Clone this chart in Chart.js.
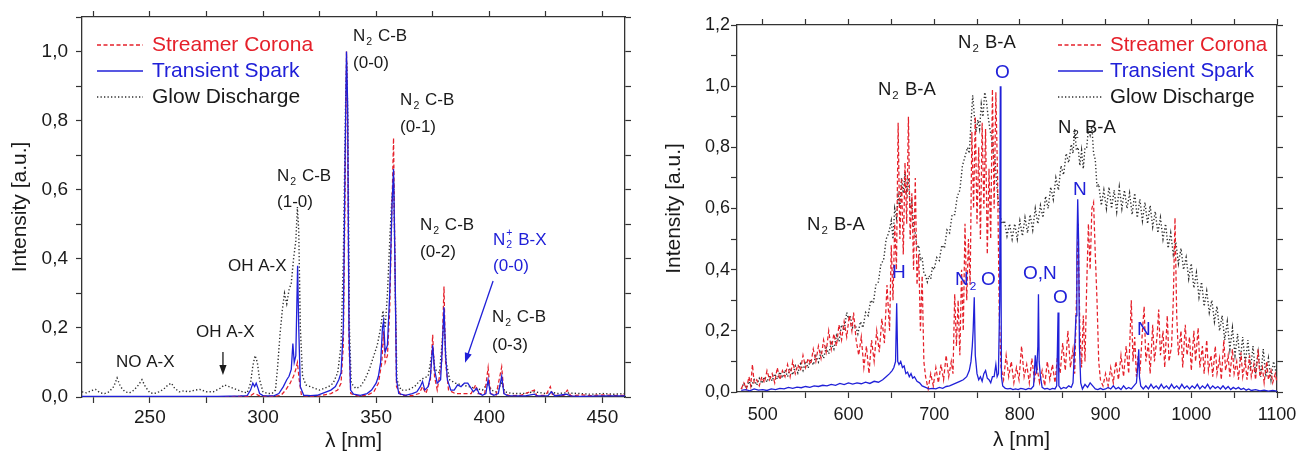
<!DOCTYPE html>
<html>
<head>
<meta charset="utf-8">
<script src="https://cdn.jsdelivr.net/npm/chart.js@4.4.1/dist/chart.umd.min.js"></script>
<style>
  html, body { margin: 0; padding: 0; background: #fff; }
  #wrap { position: relative; width: 1299px; height: 457px; }
  canvas { position: absolute; top: 0; }
  #cL { left: 0; }
  #cR { left: 650px; }
</style>
</head>
<body>
<div id="wrap">
  <canvas id="cL" width="650" height="457"></canvas>
  <canvas id="cR" width="649" height="457"></canvas>
</div>
<script>
// ── UV spectra (left panel), [λ nm, intensity a.u.] ─────────────────────────
const leftSpark = [
  [220,0.002],[230,0.002],[240,0.002],[250,0.002],[260,0.002],[270,0.002],[280,0.002],[290,0.003],[293,0.004],
  [294.5,0.02],[295.5,0.04],[296.3,0.03],[297,0.04],[297.8,0.025],[298.5,0.01],[300,0.004],[303,0.003],[305,0.004],
  [307,0.01],[309,0.03],[310.5,0.05],[311.5,0.06],[312.5,0.08],[313.2,0.155],[313.8,0.1],[314.5,0.12],[315.3,0.38],
  [315.8,0.2],[316.5,0.03],[318,0.005],[321,0.004],[324,0.005],[326,0.01],[328,0.015],[330,0.02],[332,0.03],
  [333.5,0.05],[334.5,0.07],[335.5,0.2],[336.3,0.7],[336.9,1.0],[337.4,0.85],[338,0.2],[338.7,0.02],[340,0.008],
  [343,0.005],[346,0.01],[348,0.02],[350,0.04],[351,0.06],[352,0.1],[352.8,0.2],[353.3,0.22],[354,0.13],[355,0.15],
  [356,0.3],[357,0.55],[357.7,0.66],[358.3,0.4],[359,0.05],[360,0.01],[363,0.005],[366,0.01],[368,0.015],[369.5,0.03],
  [370.5,0.045],[371.5,0.02],[373,0.03],[374,0.06],[375,0.15],[375.8,0.08],[377,0.04],[378.5,0.05],[379.3,0.15],
  [380,0.26],[380.7,0.12],[381.5,0.05],[383,0.02],[384.5,0.02],[386,0.035],[387.5,0.03],[389,0.04],[390.5,0.04],
  [391.5,0.03],[393,0.015],[394.5,0.025],[395.5,0.01],[397,0.005],[398.5,0.01],[399.5,0.05],[400.5,0.01],[402,0.005],
  [404,0.01],[405.5,0.06],[406.5,0.01],[408,0.004],[412,0.003],[416,0.003],[420,0.008],[421,0.003],[426,0.004],
  [427.5,0.015],[429,0.003],[434,0.008],[436,0.003],[440,0.002],[450,0.003],[460,0.003]
];
const leftCorona = [
  [220,0.001],[240,0.001],[260,0.001],[280,0.001],[294,0.002],[296,0.01],[297,0.008],[298.5,0.003],[305,0.002],
  [308,0.005],[310,0.02],[312,0.04],[313.5,0.06],[314.5,0.08],[315.2,0.1],[316,0.05],[317,0.005],[320,0.002],
  [325,0.003],[330,0.01],[333,0.02],[334.5,0.04],[335.5,0.15],[336.3,0.6],[336.9,1.0],[337.4,0.8],[338,0.15],
  [338.8,0.01],[342,0.003],[346,0.005],[349,0.015],[351,0.04],[352.5,0.1],[353.3,0.19],[354,0.1],[355,0.12],
  [356,0.25],[357,0.55],[357.7,0.75],[358.3,0.4],[359,0.03],[361,0.005],[366,0.004],[369,0.01],[370.5,0.03],
  [372,0.01],[374,0.05],[375,0.18],[375.8,0.06],[377,0.02],[379,0.1],[380,0.32],[380.7,0.1],[382,0.02],[385,0.01],
  [389,0.01],[392,0.01],[394,0.035],[395,0.01],[398,0.01],[399.5,0.085],[400.5,0.01],[403,0.005],[405.5,0.087],
  [406.5,0.01],[409,0.004],[414,0.005],[420,0.02],[421,0.004],[425,0.005],[427,0.03],[428,0.005],[433,0.005],
  [434.5,0.02],[436,0.004],[441,0.006],[445,0.004],[450,0.006],[455,0.004],[460,0.005]
];
const leftGlow = [
  [220,0.015],[222,0.012],[224,0.018],[226,0.022],[228,0.012],[230,0.01],[232,0.015],[234,0.03],[235.5,0.055],
  [237,0.03],[239,0.015],[241,0.012],[243,0.02],[245,0.035],[246.5,0.05],[248,0.03],[250,0.012],[252,0.01],
  [254,0.015],[256,0.022],[258,0.035],[259.5,0.04],[261,0.025],[263,0.015],[265,0.018],[267,0.015],[270,0.02],
  [272,0.022],[275,0.015],[278,0.015],[281,0.025],[283,0.035],[285,0.03],[287,0.025],[289,0.02],[291,0.015],
  [293,0.012],[294.5,0.04],[295.5,0.09],[296.5,0.12],[297.5,0.1],[298.5,0.05],[300,0.015],[302,0.01],[304,0.01],
  [305.5,0.02],[306.5,0.09],[307.5,0.18],[308.5,0.25],[309.5,0.3],[310.5,0.27],[311.5,0.31],[312.5,0.33],
  [313.5,0.4],[314.5,0.45],[315.2,0.55],[315.8,0.48],[316.5,0.2],[317.5,0.06],[319,0.035],[321,0.03],[323,0.025],
  [325,0.02],[327,0.025],[329,0.03],[331,0.04],[333,0.07],[334.5,0.15],[335.5,0.4],[336.5,0.85],[337,0.97],
  [337.5,0.8],[338.2,0.2],[339,0.04],[341,0.025],[343,0.03],[345,0.05],[347,0.08],[349,0.12],[350.5,0.15],
  [352,0.2],[353,0.25],[354,0.2],[355,0.3],[356,0.45],[357,0.58],[357.8,0.62],[358.5,0.3],[359.2,0.05],[361,0.02],
  [364,0.02],[367,0.03],[369,0.045],[371,0.055],[373,0.06],[375,0.14],[376,0.08],[378,0.07],[380,0.22],[381,0.1],
  [382.5,0.05],[385,0.04],[388,0.035],[391,0.03],[394,0.025],[397,0.02],[399.5,0.04],[401,0.02],[403,0.015],
  [405.5,0.04],[407,0.015],[410,0.01],[415,0.01],[420,0.015],[425,0.01],[427,0.015],[430,0.01],[434,0.012],
  [440,0.01],[445,0.008],[450,0.01],[455,0.008],[460,0.01]
];

// ── VIS/NIR spectra (right panel) ───────────────────────────────────────────
const rightSpark = [
  [475,0.005],[480,0.008],[485,0.004],[490,0.01],[495,0.006],[500,0.008],[505,0.005],[510,0.01],[515,0.008],
  [520,0.012],[525,0.01],[530,0.015],[535,0.012],[540,0.016],[545,0.014],[550,0.018],[555,0.015],[560,0.02],
  [565,0.018],[570,0.022],[575,0.02],[580,0.025],[585,0.022],[590,0.028],[595,0.024],[600,0.03],[605,0.026],
  [610,0.03],[615,0.027],[620,0.032],[625,0.028],[630,0.035],[635,0.032],[640,0.04],[644,0.05],[648,0.06],
  [651,0.07],[653,0.08],[655,0.1],[656.3,0.29],[657.5,0.1],[659,0.09],[661,0.1],[663,0.08],[665,0.085],[667,0.06],
  [669,0.065],[671,0.05],[673,0.06],[675,0.045],[677,0.05],[680,0.035],[683,0.03],[686,0.02],[690,0.015],[694,0.01],
  [698,0.012],[702,0.01],[706,0.015],[710,0.012],[714,0.018],[718,0.02],[722,0.025],[726,0.03],[730,0.035],
  [734,0.04],[738,0.05],[741,0.07],[743,0.1],[744.5,0.15],[745.5,0.2],[746.8,0.31],[748,0.12],[750,0.06],[752,0.04],
  [754,0.05],[756,0.035],[758,0.06],[760,0.07],[762,0.045],[764,0.04],[766,0.03],[768,0.05],[770,0.05],[772,0.09],
  [773.5,0.05],[775,0.06],[776.5,0.3],[777.2,1.0],[777.9,0.5],[778.5,0.05],[780,0.02],[783,0.012],[786,0.01],
  [789,0.012],[792,0.008],[795,0.01],[798,0.008],[801,0.012],[804,0.01],[807,0.008],[810,0.012],[813,0.01],
  [816,0.02],[818,0.12],[819.5,0.06],[821,0.15],[821.7,0.32],[822.5,0.1],[824,0.05],[826,0.015],[829,0.01],
  [832,0.012],[835,0.008],[838,0.012],[841,0.01],[843,0.02],[844.6,0.26],[845.5,0.02],[848,0.01],[851,0.015],
  [854,0.012],[857,0.02],[860,0.015],[862,0.03],[864,0.15],[865.5,0.25],[866.5,0.45],[867.5,0.63],[868.5,0.5],
  [869.5,0.15],[871,0.03],[873,0.01],[876,0.025],[879,0.015],[882,0.03],[885,0.02],[888,0.01],[891,0.008],
  [894,0.012],[897,0.008],[900,0.01],[903,0.015],[906,0.01],[909,0.02],[912,0.01],[915,0.015],[918,0.008],
  [921,0.02],[924,0.01],[927,0.015],[930,0.01],[933,0.02],[936,0.03],[937.5,0.08],[938.7,0.14],[939.5,0.05],
  [941,0.02],[944,0.01],[947,0.02],[950,0.01],[953,0.025],[956,0.012],[959,0.02],[962,0.01],[965,0.025],[968,0.012],
  [971,0.02],[974,0.01],[977,0.025],[980,0.012],[983,0.02],[986,0.01],[989,0.025],[992,0.012],[995,0.02],[998,0.01],
  [1001,0.02],[1004,0.012],[1007,0.025],[1010,0.01],[1013,0.02],[1016,0.012],[1019,0.025],[1022,0.01],[1025,0.02],
  [1028,0.012],[1031,0.018],[1034,0.01],[1037,0.02],[1040,0.01],[1043,0.018],[1046,0.008],[1049,0.015],[1052,0.01],
  [1055,0.015],[1058,0.008],[1061,0.012],[1064,0.006],[1067,0.01],[1070,0.005],[1075,0.008],[1080,0.004],
  [1085,0.006],[1090,0.003],[1095,0.005],[1100,0.003]
];
const rightCorona = [
  [475,0.01],[478,0.03],[481,0.01],[484,0.05],[486,0.02],[488,0.09],[490,0.03],[493,0.04],[496,0.02],[499,0.05],
  [502,0.03],[505,0.07],[508,0.04],[511,0.06],[514,0.03],[517,0.08],[520,0.04],[523,0.07],[526,0.05],[529,0.09],
  [532,0.05],[535,0.1],[538,0.06],[541,0.09],[544,0.07],[547,0.12],[550,0.08],[553,0.11],[556,0.09],[559,0.14],
  [562,0.1],[565,0.15],[568,0.11],[571,0.17],[574,0.13],[577,0.2],[580,0.14],[583,0.19],[586,0.15],[589,0.22],
  [592,0.17],[595,0.23],[598,0.18],[601,0.25],[604,0.2],[606,0.26],[609,0.17],[612,0.12],[615,0.18],[618,0.08],
  [621,0.15],[624,0.06],[627,0.17],[630,0.1],[633,0.2],[636,0.13],[639,0.24],[642,0.16],[645,0.35],[648,0.2],
  [650,0.48],[652,0.3],[654,0.55],[656,0.4],[658,0.88],[660,0.5],[662,0.7],[664,0.45],[666,0.75],[668,0.55],
  [670,0.9],[672,0.5],[674,0.65],[676,0.4],[678,0.7],[680,0.35],[682,0.45],[684,0.2],[686,0.38],[688,0.1],
  [690,0.05],[693,0.01],[696,0.06],[699,0.02],[702,0.08],[705,0.03],[708,0.09],[711,0.04],[714,0.12],[717,0.05],
  [720,0.1],[722,0.06],[724,0.32],[726,0.15],[728,0.3],[730,0.12],[732,0.4],[734,0.2],[736,0.55],[738,0.3],
  [740,0.5],[742,0.35],[744,0.85],[746,0.6],[748,0.9],[750,0.55],[752,0.8],[754,0.5],[756,0.88],[758,0.6],
  [760,0.86],[762,0.45],[764,0.73],[766,0.5],[768,0.99],[770,0.6],[772,0.98],[774,0.7],[776,0.25],[778,0.08],
  [781,0.04],[784,0.12],[787,0.05],[790,0.1],[793,0.03],[796,0.08],[799,0.04],[802,0.15],[805,0.05],[808,0.09],
  [811,0.03],[814,0.11],[817,0.04],[820,0.08],[823,0.03],[826,0.07],[829,0.02],[832,0.1],[835,0.04],[838,0.09],
  [841,0.03],[844,0.12],[847,0.06],[850,0.16],[853,0.07],[856,0.2],[859,0.08],[862,0.14],[864,0.06],[866,0.3],
  [868,0.55],[870,0.2],[872,0.08],[874,0.25],[876,0.1],[878,0.35],[880,0.55],[882,0.4],[884,0.6],[886,0.62],
  [888,0.45],[890,0.3],[892,0.1],[894,0.04],[897,0.02],[900,0.06],[903,0.02],[906,0.08],[909,0.03],[912,0.1],
  [915,0.04],[918,0.12],[921,0.05],[924,0.15],[927,0.06],[930,0.3],[932,0.1],[934,0.18],[936,0.05],[938,0.12],
  [940,0.06],[943,0.2],[945,0.28],[947,0.1],[950,0.16],[952,0.06],[955,0.22],[957,0.1],[960,0.18],[962,0.27],
  [964,0.12],[967,0.2],[969,0.08],[972,0.25],[974,0.1],[977,0.15],[979,0.3],[981,0.57],[983,0.25],[985,0.12],
  [988,0.2],[990,0.08],[993,0.22],[995,0.12],[998,0.18],[1000,0.07],[1003,0.2],[1005,0.1],[1008,0.21],[1010,0.08],
  [1013,0.15],[1015,0.06],[1018,0.17],[1020,0.07],[1023,0.12],[1025,0.05],[1028,0.15],[1030,0.06],[1033,0.11],
  [1035,0.04],[1038,0.17],[1040,0.07],[1043,0.12],[1045,0.05],[1048,0.14],[1050,0.06],[1053,0.1],[1055,0.04],
  [1058,0.13],[1060,0.05],[1063,0.1],[1065,0.04],[1068,0.12],[1070,0.05],[1073,0.09],[1075,0.04],[1078,0.14],
  [1080,0.05],[1083,0.08],[1085,0.03],[1088,0.1],[1090,0.04],[1093,0.07],[1095,0.03],[1098,0.06],[1100,0.03]
];
const rightGlow = [
  [475,0.01],[478,0.03],[481,0.012],[484,0.035],[487,0.02],[490,0.04],[493,0.022],[496,0.045],[499,0.028],
  [502,0.05],[505,0.032],[508,0.055],[511,0.036],[514,0.06],[517,0.042],[520,0.066],[523,0.046],[526,0.072],
  [529,0.05],[532,0.078],[535,0.056],[538,0.085],[541,0.062],[544,0.092],[547,0.07],[550,0.1],[553,0.078],
  [556,0.108],[559,0.088],[562,0.118],[565,0.098],[568,0.13],[571,0.11],[574,0.145],[577,0.125],[580,0.16],
  [583,0.14],[586,0.185],[589,0.165],[592,0.22],[595,0.2],[598,0.26],[600,0.24],[602,0.25],[605,0.21],[608,0.22],
  [611,0.19],[614,0.23],[617,0.21],[620,0.26],[623,0.25],[626,0.3],[629,0.29],[632,0.35],[635,0.36],[638,0.42],
  [641,0.43],[644,0.5],[647,0.52],[650,0.56],[652,0.5],[654,0.6],[656,0.57],[658,0.64],[660,0.6],[662,0.7],
  [664,0.65],[666,0.72],[668,0.66],[670,0.7],[672,0.6],[674,0.62],[676,0.54],[678,0.52],[680,0.47],[682,0.48],
  [684,0.43],[686,0.44],[688,0.39],[690,0.38],[692,0.36],[694,0.38],[696,0.37],[698,0.41],[700,0.4],[703,0.44],
  [706,0.43],[709,0.48],[712,0.47],[715,0.53],[718,0.52],[721,0.58],[724,0.58],[727,0.64],[730,0.66],[733,0.74],
  [736,0.77],[739,0.8],[741,0.78],[743,0.88],[745,0.97],[747,0.9],[749,0.85],[751,0.89],[753,0.86],[755,0.94],
  [757,0.9],[759,0.98],[761,0.95],[763,0.9],[765,0.86],[767,0.83],[769,0.78],[771,0.76],[773,0.68],[775,0.62],
  [777,0.58],[779,0.55],[782,0.56],[785,0.51],[788,0.55],[791,0.5],[794,0.55],[797,0.5],[800,0.56],[803,0.51],
  [806,0.57],[809,0.52],[812,0.58],[815,0.53],[818,0.6],[821,0.55],[824,0.61],[827,0.57],[830,0.64],[833,0.6],
  [836,0.67],[839,0.63],[842,0.7],[845,0.66],[848,0.74],[851,0.71],[854,0.78],[857,0.75],[860,0.81],[862,0.78],
  [864,0.86],[866,0.79],[868,0.8],[870,0.74],[872,0.79],[874,0.73],[876,0.8],[878,0.8],[880,0.86],[882,0.84],
  [884,0.87],[886,0.78],[888,0.76],[890,0.67],[892,0.68],[895,0.61],[898,0.66],[901,0.6],[904,0.67],[907,0.6],
  [910,0.66],[913,0.59],[916,0.67],[919,0.6],[922,0.66],[925,0.6],[928,0.65],[931,0.58],[934,0.65],[937,0.57],
  [940,0.63],[943,0.56],[946,0.62],[949,0.55],[952,0.61],[955,0.54],[958,0.59],[961,0.52],[964,0.57],[967,0.5],
  [970,0.55],[973,0.47],[976,0.52],[979,0.45],[982,0.49],[985,0.42],[988,0.47],[991,0.4],[994,0.44],[997,0.37],
  [1000,0.42],[1003,0.34],[1006,0.39],[1009,0.31],[1012,0.36],[1015,0.28],[1018,0.33],[1021,0.26],[1024,0.3],
  [1027,0.23],[1030,0.28],[1033,0.2],[1036,0.25],[1039,0.17],[1042,0.23],[1045,0.14],[1048,0.21],[1051,0.12],
  [1054,0.19],[1057,0.1],[1060,0.18],[1063,0.09],[1066,0.17],[1069,0.07],[1072,0.15],[1075,0.06],[1078,0.13],
  [1081,0.05],[1084,0.14],[1087,0.05],[1090,0.11],[1093,0.04],[1096,0.1],[1100,0.05]
];

// ── Tick labels ───────────────────────────────────────────────────────────────
const leftXLabels = [250, 300, 350, 400, 450];
const leftYLabels = [0, 0.2, 0.4, 0.6, 0.8, 1.0];
const rightXLabels = [500, 600, 700, 800, 900, 1000, 1100];
const rightYLabels = [0, 0.2, 0.4, 0.6, 0.8, 1.0, 1.2];

// ── Labels on the plots: [λ, intensity, text] (_x subscript, ^x superscript) ─
const leftNotes = [
  [339.8,1.043,'N_2 C-B'],[339.8,0.965,'(0-0)'],
  [360.6,0.858,'N_2 C-B'],[360.6,0.780,'(0-1)'],
  [306.2,0.638,'N_2 C-B'],[306.2,0.565,'(1-0)'],
  [284.5,0.377,'OH A-X'],[270.4,0.188,'OH A-X'],[235.0,0.099,'NO A-X'],
  [369.4,0.496,'N_2 C-B'],[369.4,0.420,'(0-2)'],
  [401.2,0.232,'N_2 C-B'],[401.2,0.151,'(0-3)']
];
const leftBlueNotes = [[401.7,0.455,'N_2^+ B-X'],[401.7,0.377,'(0-0)']];
const leftArrows = [[282.3,0.13,282.3,0.064,'k'],[401.7,0.336,389.3,0.099,'b']];
const rightNotes = [[551.7,0.546,'N_2 B-A'],[634.5,0.988,'N_2 B-A'],[727.9,1.141,'N_2 B-A'],[844.6,0.863,'N_2 B-A']];
const rightBlueNotes = [
  [771.0,1.043,'O'],[862.1,0.66,'N'],[650.9,0.389,'H'],[724.4,0.366,'N_2'],
  [754.6,0.366,'O'],[803.7,0.386,'O,N'],[838.7,0.307,'O'],[936.7,0.203,'N']
];

const FONT = '"Liberation Sans", Arial, Helvetica, sans-serif';
const RED = '#e5202a', BLUE = '#2020d8', DOT = '#2e2e2e', INK = '#1a1a1a';

const xy = arr => arr.map(p => ({x: p[0], y: p[1]}));

function richText(ctx, str, x, y, size) {
  let cx = x, subX = null;
  str.split(/([_^].)/).forEach(p => {
    if (!p) return;
    if (p[0] === '_' || p[0] === '^') {
      const s = size * 0.62;
      ctx.font = s + 'px ' + FONT;
      const w = ctx.measureText(p[1]).width;
      if (p[0] === '_') { ctx.fillText(p[1], cx + 1, y + size * 0.34); subX = cx; cx += w + 2; }
      else { const sx = subX !== null ? subX : cx; ctx.fillText(p[1], sx + 1, y - size * 0.42); cx = Math.max(cx, sx + w + 2); }
      return;
    }
    subX = null;
    ctx.font = size + 'px ' + FONT;
    ctx.fillText(p, cx, y);
    cx += ctx.measureText(p).width;
  });
}

function drawArrow(ctx, x1, y1, x2, y2, color) {
  const a = Math.atan2(y2 - y1, x2 - x1), L = 10, W = 3.6;
  ctx.strokeStyle = color; ctx.fillStyle = color; ctx.lineWidth = 1.3; ctx.setLineDash([]);
  ctx.beginPath(); ctx.moveTo(x1, y1); ctx.lineTo(x2 - L * 0.8 * Math.cos(a), y2 - L * 0.8 * Math.sin(a)); ctx.stroke();
  ctx.beginPath(); ctx.moveTo(x2, y2);
  ctx.lineTo(x2 - L * Math.cos(a) + W * Math.sin(a), y2 - L * Math.sin(a) - W * Math.cos(a));
  ctx.lineTo(x2 - L * Math.cos(a) - W * Math.sin(a), y2 - L * Math.sin(a) + W * Math.cos(a));
  ctx.closePath(); ctx.fill();
}

// notes, legend and arrows drawn on top of the spectra
function overlay(o) {
  return {id: 'overlay', afterDatasetsDraw(chart) {
    const {ctx, chartArea: ca, scales: {x, y}} = chart;
    ctx.save();
    ctx.textBaseline = 'middle'; ctx.textAlign = 'left';
    ctx.fillStyle = INK;
    o.notes.forEach(n => richText(ctx, n[2], x.getPixelForValue(n[0]), y.getPixelForValue(n[1]), o.noteSize));
    ctx.fillStyle = BLUE;
    o.blueNotes.forEach(n => richText(ctx, n[2], x.getPixelForValue(n[0]), y.getPixelForValue(n[1]), o.blueSize));
    (o.arrows || []).forEach(a => drawArrow(ctx, x.getPixelForValue(a[0]), y.getPixelForValue(a[1]),
      x.getPixelForValue(a[2]), y.getPixelForValue(a[3]), a[4] === 'b' ? BLUE : INK));
    const lg = o.legend;
    [['Streamer Corona', RED, RED, [4, 2.5], 1.3], ['Transient Spark', BLUE, BLUE, [], 1.3], ['Glow Discharge', DOT, INK, [1.3, 2.2], 1.3]]
      .forEach((e, i) => {
        const ly = ca.top + lg.ys[i];
        ctx.strokeStyle = e[1]; ctx.lineWidth = e[4]; ctx.setLineDash(e[3]);
        ctx.beginPath(); ctx.moveTo(ca.left + lg.x0, ly); ctx.lineTo(ca.left + lg.x1, ly); ctx.stroke();
        ctx.setLineDash([]);
        ctx.fillStyle = e[2]; ctx.font = lg.size + 'px ' + FONT;
        ctx.fillText(e[0], ca.left + lg.tx, ly);
      });
    ctx.restore();
  }};
}

function makeChart(id, o) {
  const grid = () => ({display: true, drawOnChartArea: false, drawTicks: true, tickLength: 6, tickWidth: 1.2, tickColor: '#333'});
  const border = () => ({display: true, color: '#333', width: 1.3});
  const tickFont = {family: FONT, size: o.tickSize};
  const titleFont = {family: FONT, size: 21};
  const has = (arr, v) => arr.some(a => Math.abs(a - v) < 1e-6);
  const noPad = s => { s.paddingLeft = 0; s.paddingRight = 0; s.paddingTop = 0; s.paddingBottom = 0; };
  const base = {pointRadius: 0, tension: 0, fill: false};
  return new Chart(document.getElementById(id), {
    type: 'line',
    data: {datasets: [
      Object.assign({label: 'Transient Spark', data: xy(o.spark), borderColor: BLUE, borderWidth: 1.3}, base),
      Object.assign({label: 'Streamer Corona', data: xy(o.corona), borderColor: RED, borderWidth: 1.25, borderDash: [4, 2.5]}, base),
      Object.assign({label: 'Glow Discharge', data: xy(o.glow), borderColor: DOT, borderWidth: 1.4, borderDash: [1.3, 2.2]}, base)
    ]},
    options: {
      responsive: false, animation: false, events: [],
      layout: {padding: o.pad},
      plugins: {legend: {display: false}, tooltip: {enabled: false}},
      scales: {
        x: {type: 'linear', position: 'bottom', min: o.xMin, max: o.xMax, grid: grid(), border: border(),
          ticks: {stepSize: o.xStep, includeBounds: false, autoSkip: false, maxRotation: 0, minRotation: 0,
            padding: o.xTickPad, color: INK, font: tickFont, callback: v => has(o.xLabels, v) ? String(v) : ''},
          title: {display: true, text: o.xTitle, color: INK, font: titleFont, padding: {top: 0, bottom: o.xTitlePad}},
          afterFit: s => { noPad(s); s.height = o.bottomH; }},
        x2: {type: 'linear', position: 'top', min: o.xMin, max: o.xMax, grid: grid(), border: border(),
          ticks: {display: false, stepSize: o.xStep, includeBounds: false},
          afterFit: s => { noPad(s); s.height = 6; }},
        y: {type: 'linear', position: 'left', min: 0, max: o.yMax, grid: grid(), border: border(),
          ticks: {stepSize: 0.1, autoSkip: false, padding: o.yTickPad, color: INK, font: tickFont,
            callback: v => has(o.yLabels, v) ? v.toFixed(1).replace('.', ',') : ''},
          title: {display: true, text: 'Intensity [a.u.]', color: INK, font: titleFont, padding: {top: o.yTitlePad, bottom: 0}},
          afterFit: s => { noPad(s); s.width = o.leftW; }},
        y2: {type: 'linear', position: 'right', min: 0, max: o.yMax, grid: grid(), border: border(),
          ticks: {display: false, stepSize: 0.1},
          afterFit: s => { noPad(s); s.width = 6; }}
      }
    },
    plugins: [overlay(o)]
  });
}

makeChart('cL', {
  spark: leftSpark, corona: leftCorona, glow: leftGlow,
  xMin: 220, xMax: 460, xStep: 25, yMax: 1.1, xLabels: leftXLabels, yLabels: leftYLabels,
  pad: {left: 0, top: 11, right: 19, bottom: 0}, leftW: 82, bottomH: 60,
  tickSize: 19, xTickPad: 3, yTickPad: 8, xTitlePad: 3, yTitlePad: 8, xTitle: 'λ [nm]',
  notes: leftNotes, blueNotes: leftBlueNotes, arrows: leftArrows, noteSize: 17, blueSize: 17,
  legend: {x0: 15, x1: 61, tx: 70, ys: [28, 54, 80], size: 21}
});

makeChart('cR', {
  spark: rightSpark, corona: rightCorona, glow: rightGlow,
  xMin: 470, xMax: 1100, xStep: 50, yMax: 1.2, xLabels: rightXLabels, yLabels: rightYLabels,
  pad: {left: 0, top: 19, right: 16, bottom: 0}, leftW: 87, bottomH: 65,
  tickSize: 18, xTickPad: 6, yTickPad: 1, xTitlePad: 4, yTitlePad: 12, xTitle: '     λ [nm]',
  notes: rightNotes, blueNotes: rightBlueNotes, noteSize: 18.5, blueSize: 19,
  legend: {x0: 321, x1: 366, tx: 373, ys: [20, 46, 72], size: 20.5}
});
</script>
</body>
</html>
